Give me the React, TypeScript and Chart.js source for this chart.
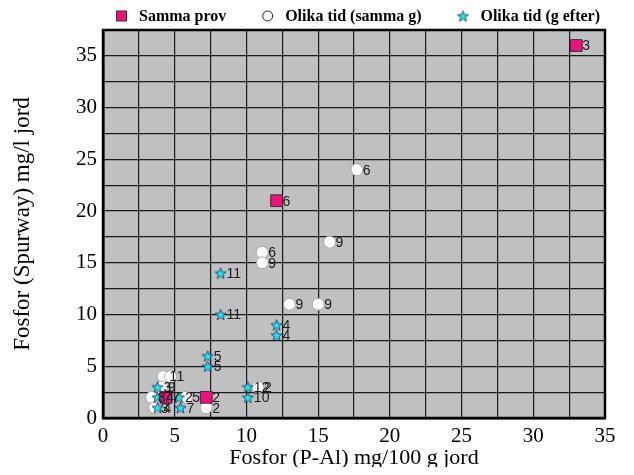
import React, { useEffect, useRef } from 'react';
import { Chart, registerables } from 'chart.js';
Chart.register(...registerables);

// ---- Data ----
const seriesNames = ['Samma prov', 'Olika tid (samma g)', 'Olika tid (g efter)'];

const sammaProvX = [33, 12.1, 7.2, 4.4];
const sammaProvY = [36, 21, 2, 2];
const sammaProvLabels = ['3', '6', '2', '7'];

const sammaGX = [17.7, 15.8, 11.1, 11.1, 13.0, 15.0, 10.8, 7.2, 4.2, 4.7, 3.4, 4.1, 3.6, 5.8, 4.0];
const sammaGY = [24, 17, 16, 15, 11, 11, 3, 1, 4, 4, 2, 3, 1, 2, 2];
const sammaGLabels = ['6', '9', '6', '9', '9', '9', '2', '2', '1', '1', '8', '9', '3', '5', '4'];

const gEfterX = [8.2, 8.2, 12.1, 12.1, 7.3, 7.3, 10.1, 10.1, 3.8, 3.8, 5.3, 3.8, 5.4];
const gEfterY = [14, 10, 9, 8, 6, 5, 3, 2, 3, 2, 2, 1, 1];
const gEfterLabels = ['11', '11', '4', '4', '5', '5', '12', '10', '3', '7', '2', '4', '7'];

const xTickLabels = [0, 5, 10, 15, 20, 25, 30, 35];
const yTickLabels = [0, 5, 10, 15, 20, 25, 30, 35];

const xTitle = 'Fosfor (P-Al) mg/100 g jord';
const yTitle = 'Fosfor (Spurway) mg/l jord';

const MAGENTA = '#f2107c';
const CYAN = '#16eaea';

function makeStar(size: number) {
  const c = document.createElement('canvas');
  c.width = size;
  c.height = size;
  const ctx = c.getContext('2d')!;
  const cx = size / 2, cy = size / 2 + 0.6;
  const R = size / 2 - 0.6, r = R * 0.42;
  ctx.beginPath();
  for (let i = 0; i < 10; i++) {
    const a = -Math.PI / 2 + (i * Math.PI) / 5;
    const rad = i % 2 === 0 ? R : r;
    ctx.lineTo(cx + rad * Math.cos(a), cy + rad * Math.sin(a));
  }
  ctx.closePath();
  ctx.fillStyle = CYAN;
  ctx.fill();
  ctx.lineWidth = 0.8;
  ctx.strokeStyle = '#1b2f6a';
  ctx.stroke();
  return c;
}

const zip = (xs: number[], ys: number[]) => xs.map((x, i) => ({ x, y: ys[i] }));

export default function App() {
  const ref = useRef<HTMLCanvasElement>(null);
  useEffect(() => {
    const star = makeStar(13);
    const pointLabels = [sammaProvLabels, sammaGLabels, gEfterLabels];

    const bgPlugin = {
      id: 'bg',
      beforeDraw(chart: any) {
        const { ctx, chartArea: a } = chart;
        ctx.save();
        ctx.fillStyle = '#c0c0c0';
        ctx.fillRect(a.left, a.top, a.right - a.left, a.bottom - a.top);
        ctx.restore();
      },
      beforeDatasetsDraw(chart: any) {
        const { ctx, chartArea: a } = chart;
        ctx.save();
        ctx.strokeStyle = '#000';
        ctx.lineWidth = 2.5;
        ctx.strokeRect(a.left, a.top, a.right - a.left, a.bottom - a.top);
        ctx.restore();
      },
    };

    const labelPlugin = {
      id: 'ptlabels',
      afterDatasetsDraw(chart: any) {
        const ctx = chart.ctx;
        ctx.save();
        ctx.font = '14px "Liberation Sans", Arial, sans-serif';
        ctx.fillStyle = '#1a1a1a';
        ctx.textBaseline = 'middle';
        ctx.textAlign = 'left';
        chart.data.datasets.forEach((ds: any, di: number) => {
          const meta = chart.getDatasetMeta(di);
          meta.data.forEach((pt: any, i: number) => {
            ctx.fillText(pointLabels[di][i], pt.x + 6, pt.y + 1);
          });
        });
        ctx.restore();
      },
    };

    const legendPlugin = {
      id: 'customLegend',
      afterDraw(chart: any) {
        const { ctx, chartArea: a } = chart;
        ctx.save();
        ctx.font = 'bold 16px "Liberation Serif", "Times New Roman", serif';
        ctx.textBaseline = 'middle';
        const marker = 11, markerGap = 12, targetWidth = 484;
        const widths = seriesNames.map((n) => marker + markerGap + ctx.measureText(n).width);
        const gap = (targetWidth - widths.reduce((s, w) => s + w, 0)) / (seriesNames.length - 1);
        let x = (a.left + a.right) / 2 - targetWidth / 2 + 4;
        const y = 8;
        seriesNames.forEach((n, i) => {
          const cx = x + marker / 2;
          if (i === 0) {
            ctx.fillStyle = MAGENTA;
            ctx.strokeStyle = '#333';
            ctx.lineWidth = 1;
            ctx.fillRect(cx - 5, y - 5, 10, 10);
            ctx.strokeRect(cx - 5, y - 5, 10, 10);
          } else if (i === 1) {
            ctx.beginPath();
            ctx.arc(cx, y, 5, 0, Math.PI * 2);
            ctx.fillStyle = '#fff';
            ctx.fill();
            ctx.strokeStyle = '#222';
            ctx.lineWidth = 1;
            ctx.stroke();
          } else {
            ctx.drawImage(star, cx - star.width / 2, y - star.height / 2);
          }
          ctx.fillStyle = '#000';
          ctx.fillText(n, x + marker + markerGap, y + 1);
          x += widths[i] + gap;
        });
        ctx.restore();
      },
    };

    const tickFont = { family: '"Liberation Serif", "Times New Roman", serif', size: 21 };
    const xTitleFont = { family: '"Liberation Serif", "Times New Roman", serif', size: 22, lineHeight: 1.0 };
    const yTitleFont = { family: '"Liberation Serif", "Times New Roman", serif', size: 23, lineHeight: 1.0 };
    const gridCfg = { color: '#1a1a1a', lineWidth: 1.2, drawTicks: false };

    const chart = new Chart(ref.current!, {
      type: 'scatter',
      data: {
        datasets: [
          {
            label: seriesNames[0],
            data: zip(sammaProvX, sammaProvY),
            pointStyle: 'rect',
            pointRadius: 8.3,
            backgroundColor: MAGENTA,
            borderColor: '#333',
            borderWidth: 1,
            order: 2,
          },
          {
            label: seriesNames[1],
            data: zip(sammaGX, sammaGY),
            pointStyle: 'circle',
            pointRadius: 6,
            backgroundColor: '#ffffff',
            borderColor: '#9a9a9a',
            borderWidth: 0.8,
            order: 3,
          },
          {
            label: seriesNames[2],
            data: zip(gEfterX, gEfterY),
            pointStyle: star as any,
            pointRadius: 6,
            backgroundColor: CYAN,
            order: 1,
          },
        ],
      },
      options: {
        animation: false,
        responsive: false,
        layout: { padding: { top: 22, right: 21, left: 0, bottom: 0 } },
        plugins: { legend: { display: false }, tooltip: { enabled: false } },
        scales: {
          x: {
            type: 'linear',
            min: 0,
            max: 35,
            afterFit: (s: any) => { s.height = 49; },
            ticks: {
              stepSize: 2.5,
              autoSkip: false,
              maxRotation: 0,
              padding: 6,
              color: '#000',
              font: tickFont,
              callback: (v: any) => (xTickLabels.includes(Number(v)) ? String(v) : ''),
            },
            grid: gridCfg,
            border: { color: '#000', width: 2.5 },
            title: { display: true, text: xTitle, color: '#000', font: xTitleFont, padding: { top: 0, bottom: -2 } },
          },
          y: {
            type: 'linear',
            min: 0,
            max: 37.5,
            afterFit: (s: any) => { s.width = 95; },
            ticks: {
              stepSize: 2.5,
              autoSkip: false,
              padding: 6,
              color: '#000',
              font: tickFont,
              callback: (v: any) => (yTickLabels.includes(Number(v)) ? String(v) : ''),
            },
            grid: gridCfg,
            border: { color: '#000', width: 2.5 },
            title: { display: true, text: yTitle, color: '#000', font: yTitleFont, padding: { top: 3, bottom: 0 } },
          },
        },
      },
      plugins: [bgPlugin, labelPlugin, legendPlugin],
    } as any);
    return () => chart.destroy();
  }, []);
  return (
    <div style={{ width: 618, height: 459 }}>
      <canvas ref={ref} width={618} height={459} style={{ display: 'block' }} />
    </div>
  );
}
